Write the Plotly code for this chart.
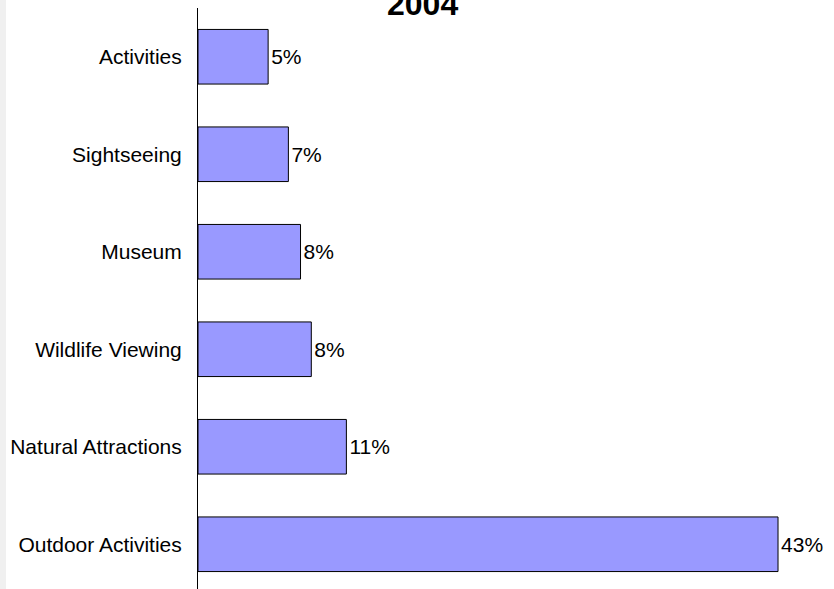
import plotly.graph_objects as go

categories = ["Outdoor Activities", "Natural Attractions", "Wildlife Viewing",
              "Museum", "Sightseeing", "Activities"]
values = [43.0, 11.0, 8.4, 7.6, 6.7, 5.2]
labels = ["43%", "11%", "8%", "8%", "7%", "5%"]
title_text = "2004"

W, H = 834, 589
L, R, T, B = 198, 29, 8, 0
pw = W - L - R
ph = H - T - B
FONT = "Arial, Liberation Sans, sans-serif"

fig = go.Figure(go.Bar(
    y=categories, x=values, orientation="h",
    text=labels, textposition="outside", cliponaxis=False,
    textfont=dict(family=FONT, size=21, color="#000000"),
    marker=dict(color="#9999ff", line=dict(color="#000000", width=1)),
    width=0.56,
))

fig.update_layout(
    width=W, height=H,
    margin=dict(l=L, r=R, t=T, b=B),
    paper_bgcolor="white", plot_bgcolor="white",
    showlegend=False,
    font=dict(family=FONT, size=21, color="#000000"),
    xaxis=dict(range=[0, 45], visible=False, showgrid=False, zeroline=False),
    yaxis=dict(range=[-0.459, 5.5], showline=True, linecolor="#000000", linewidth=1,
               ticks="outside", ticklen=0, ticklabelstandoff=11,
               showgrid=False, zeroline=False,
               tickfont=dict(family=FONT, size=21, color="#000000")),
    shapes=[dict(type="rect", xref="paper", yref="paper",
                 x0=-L / pw, x1=(6 - L) / pw, y0=-0.1, y1=1.1,
                 fillcolor="#f0f0f0", line=dict(width=0), layer="below")],
    annotations=[dict(text="<b>" + title_text + "</b>", xref="paper", yref="paper",
                      x=(422 - L) / pw, y=1 + (T - 4) / ph, yanchor="middle",
                      xanchor="center", showarrow=False,
                      font=dict(family=FONT, size=32, color="#000000"))],
)

fig.write_html("out.html", config={"displayModeBar": False},
               post_script="document.body.style.margin='0';")
